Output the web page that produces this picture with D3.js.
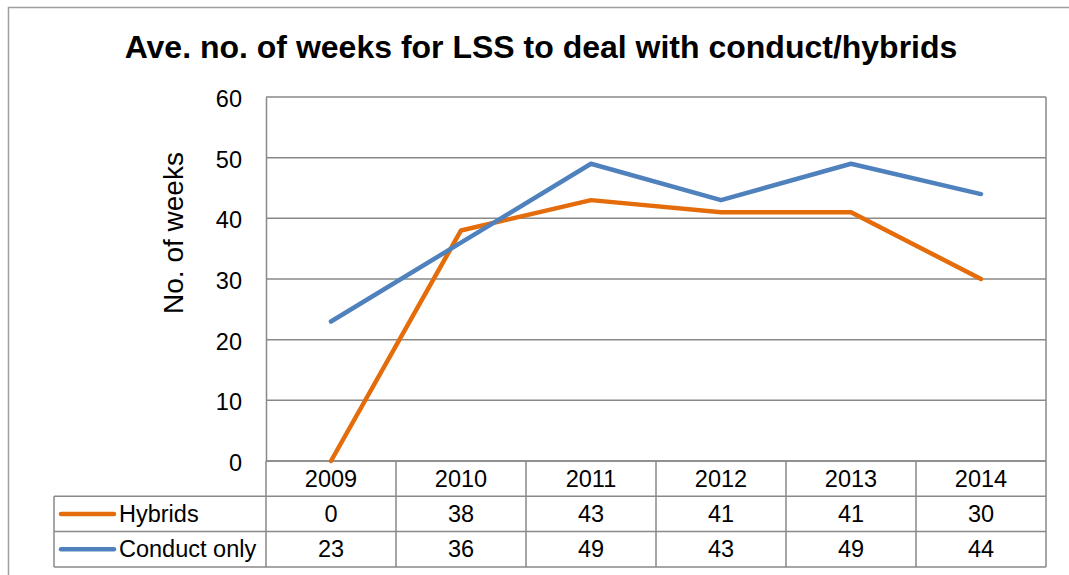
<!DOCTYPE html>
<html>
<head>
<meta charset="utf-8">
<script src="https://cdn.jsdelivr.net/npm/d3@7"></script>
<style>
  body { margin: 0; background: #fff; }
  svg { display: block; font-family: "Liberation Sans", Arial, sans-serif; }
</style>
</head>
<body>
<script>
const width = 1069, height = 575;

// data
const years = ['2009', '2010', '2011', '2012', '2013', '2014'];
const hybrids = [0, 38, 43, 41, 41, 30];
const conductOnly = [23, 36, 49, 43, 49, 44];
const yTicks = [0, 10, 20, 30, 40, 50, 60];

const series = [
  {name: 'Hybrids', values: hybrids, color: '#E46C0A'},
  {name: 'Conduct only', values: conductOnly, color: '#4F81BD'}
];

const fig = {left: 266, right: 1046, top: 97, bottom: 461, tableLeft: 54, rowH: 35.3};
const grid = '#898989';
const fs = '23.5px';

const svg = d3.select('body').append('svg')
  .attr('width', width)
  .attr('height', height);

// outer frame
svg.append('rect')
  .attr('x', 8.5).attr('y', 7.5)
  .attr('width', width + 10).attr('height', height + 10)
  .attr('fill', 'none')
  .attr('stroke', '#a0a0a0')
  .attr('stroke-width', 1.5);

var x = d3.scaleBand()
  .domain(years)
  .range([fig.left, fig.right]);

var y = d3.scaleLinear()
  .domain([0, 60])
  .range([fig.bottom, fig.top]);

// gridlines
svg.append('g')
  .selectAll('line')
  .data(yTicks)
  .join('line')
    .attr('x1', fig.left).attr('x2', fig.right)
    .attr('y1', d => y(d)).attr('y2', d => y(d))
    .attr('stroke', grid)
    .attr('stroke-width', 1.5);

// y axis
const yAxis = d3.axisLeft(y)
  .tickValues(yTicks)
  .tickSize(0)
  .tickPadding(24);

svg.append('g')
  .attr('transform', 'translate(' + fig.left + ',0)')
  .call(yAxis)
  .call(g => g.select('.domain').attr('stroke', grid).attr('stroke-width', 1.5))
  .selectAll('text')
    .attr('font-size', fs)
    .attr('dy', '0.4em')
    .attr('font-family', '"Liberation Sans", Arial, sans-serif')
    .attr('fill', '#000');

// y label
svg.append('text')
  .attr('transform', 'translate(183,233) rotate(-90)')
  .attr('text-anchor', 'middle')
  .attr('font-size', '28px')
  .text('No. of weeks');

// title
svg.append('text')
  .attr('x', 541)
  .attr('y', 58)
  .attr('text-anchor', 'middle')
  .attr('font-size', '32px')
  .attr('font-weight', 'bold')
  .text('Ave. no. of weeks for LSS to deal with conduct/hybrids');

// data table
const table = svg.append('g');
const rows = [fig.bottom, fig.bottom + fig.rowH, fig.bottom + 2 * fig.rowH, fig.bottom + 3 * fig.rowH];

// horizontal lines
table.append('line')
  .attr('x1', fig.left).attr('x2', fig.right)
  .attr('y1', rows[0]).attr('y2', rows[0]);
rows.slice(1).forEach(r => {
  table.append('line')
    .attr('x1', fig.tableLeft).attr('x2', fig.right)
    .attr('y1', r).attr('y2', r);
});
// vertical lines
years.forEach(yr => {
  table.append('line')
    .attr('x1', x(yr)).attr('x2', x(yr))
    .attr('y1', rows[0]).attr('y2', rows[3]);
});
table.append('line')
  .attr('x1', fig.right).attr('x2', fig.right)
  .attr('y1', fig.top).attr('y2', rows[3]);
table.append('line')
  .attr('x1', fig.tableLeft).attr('x2', fig.tableLeft)
  .attr('y1', rows[1]).attr('y2', rows[3]);
table.selectAll('line')
  .attr('stroke', grid)
  .attr('stroke-width', 1.5);

// year labels
table.selectAll('.yr')
  .data(years)
  .join('text')
    .attr('class', 'yr')
    .attr('x', d => x(d) + x.bandwidth() / 2)
    .attr('y', rows[0] + fig.rowH / 2 + 8.5)
    .attr('text-anchor', 'middle')
    .attr('font-size', fs)
    .text(d => d);

series.forEach((s, i) => {
  const ry = rows[i + 1] + fig.rowH / 2;
  table.append('line')
    .attr('x1', 61).attr('x2', 114)
    .attr('y1', ry).attr('y2', ry)
    .attr('stroke', s.color)
    .attr('stroke-width', 4.5)
    .attr('stroke-linecap', 'round');
  table.append('text')
    .attr('x', 119)
    .attr('y', ry + 8)
    .attr('font-size', fs)
    .text(s.name);
  table.selectAll('.v' + i)
    .data(s.values)
    .join('text')
      .attr('class', 'v' + i)
      .attr('x', (d, j) => x(years[j]) + x.bandwidth() / 2)
      .attr('y', ry + 8)
      .attr('text-anchor', 'middle')
      .attr('font-size', fs)
      .text(d => d);
});

// lines
const line = d3.line()
  .x((d, i) => x(years[i]) + x.bandwidth() / 2)
  .y(d => y(d));

svg.append('g')
  .selectAll('path')
  .data(series)
  .join('path')
    .attr('d', d => line(d.values))
    .attr('fill', 'none')
    .attr('stroke', d => d.color)
    .attr('stroke-width', 4.5)
    .attr('stroke-linecap', 'round')
    .attr('stroke-linejoin', 'round');
</script>
</body>
</html>
